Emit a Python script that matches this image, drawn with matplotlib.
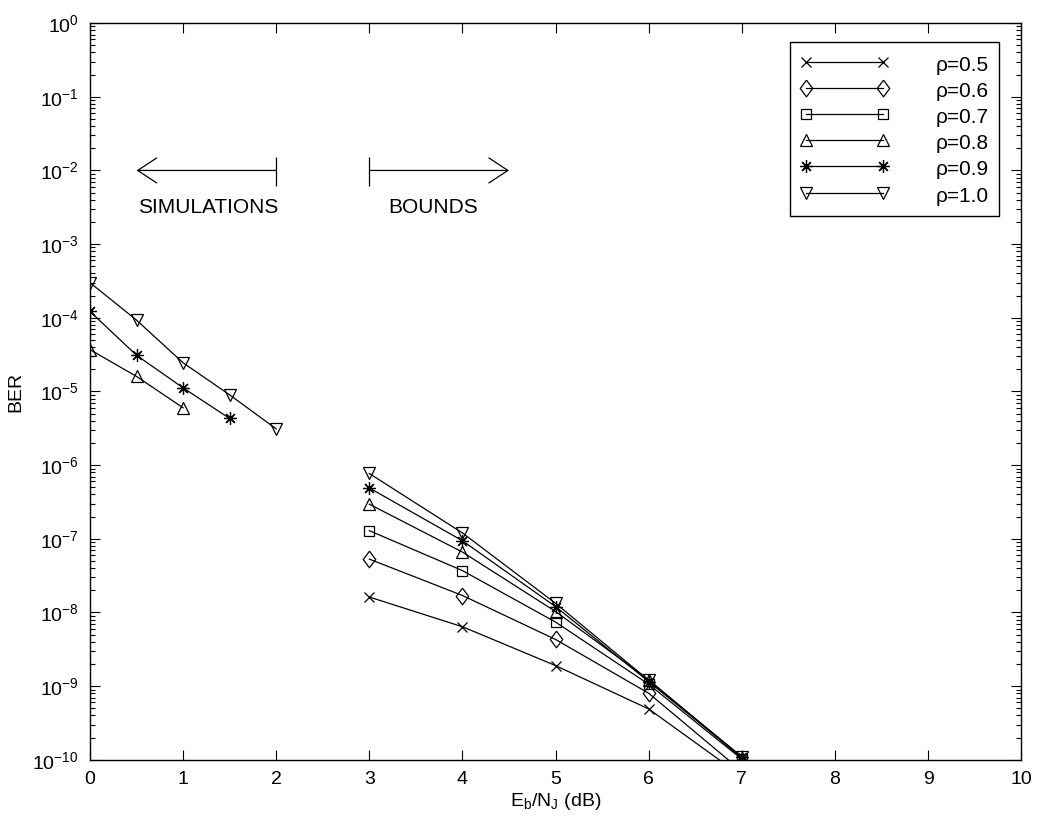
import matplotlib
matplotlib.use("Agg")
from matplotlib import pyplot as plt
from matplotlib.ticker import LogLocator, NullFormatter

plt.rcParams['font.family'] = ['Liberation Sans', 'DejaVu Sans']
plt.rcParams['mathtext.default'] = 'regular'
plt.rcParams['font.size'] = 14

# simulated BER (rho = 0.8, 0.9, 1.0)
x_sim_08 = [0, 0.5, 1.0]
ber_sim_08 = [3.7e-5, 1.6e-5, 6.0e-6]
x_sim_09 = [0, 0.5, 1.0, 1.5]
ber_sim_09 = [1.22e-4, 3.1e-5, 1.12e-5, 4.3e-6]
x_sim_10 = [0, 0.5, 1.0, 1.5, 2.0]
ber_sim_10 = [3.0e-4, 9.3e-5, 2.45e-5, 9.0e-6, 3.1e-6]

# union bounds
x_bnd = [3, 4, 5, 6, 7]
ber_bnd_05 = [1.62e-8, 6.4e-9, 1.9e-9, 4.9e-10, 6.0e-11]
ber_bnd_06 = [5.3e-8, 1.7e-8, 4.3e-9, 8.0e-10, 7.0e-11]
ber_bnd_07 = [1.29e-7, 3.7e-8, 7.4e-9, 1.06e-9, 1.02e-10]
ber_bnd_08 = [2.95e-7, 6.6e-8, 1.03e-8, 1.22e-9, 1.06e-10]
ber_bnd_09 = [4.9e-7, 9.4e-8, 1.2e-8, 1.15e-9, 1.08e-10]
ber_bnd_10 = [7.7e-7, 1.2e-7, 1.33e-8, 1.2e-9, 1.1e-10]

labels = ['ρ=0.5', 'ρ=0.6', 'ρ=0.7', 'ρ=0.8', 'ρ=0.9', 'ρ=1.0']
y_ticks = [10.0 ** -k for k in range(11)]

diamond = [(0, 1), (0.75, 0), (0, -1), (-0.75, 0), (0, 1)]
styles = [
    dict(marker='x', ms=7),
    dict(marker=diamond, ms=12),
    dict(marker='s', ms=7),
    dict(marker='^', ms=9),
    dict(marker=(8, 2, 0), ms=9),
    dict(marker='v', ms=9),
]
common = dict(color='k', lw=0.9, mfc='none', mec='k', mew=0.9)

fig = plt.figure(figsize=(10.4, 8.25), dpi=100)
ax = fig.add_axes([0.0865, 0.079, 0.8955, 0.893])

bnd = [ber_bnd_05, ber_bnd_06, ber_bnd_07, ber_bnd_08, ber_bnd_09, ber_bnd_10]
for b, lab, st in zip(bnd, labels, styles):
    ax.plot(x_bnd, b, label=lab, **st, **common)

ax.plot(x_sim_08, ber_sim_08, **styles[3], **common)
ax.plot(x_sim_09, ber_sim_09, **styles[4], **common)
ax.plot(x_sim_10, ber_sim_10, **styles[5], **common)

ax.set_yscale('log')
ax.set_xlim(0, 10)
ax.set_xticks(range(0, 11))
ax.set_yticks(y_ticks)
ax.yaxis.set_minor_locator(LogLocator(base=10, subs=range(2, 10), numticks=20))
ax.yaxis.set_minor_formatter(NullFormatter())
ax.set_ylim(1e-10, 1)
ax.tick_params(which='both', direction='in', top=True, right=True, width=0.8)
ax.tick_params(which='major', length=7, pad=8)
ax.tick_params(which='minor', length=3.5)
for s in ax.spines.values():
    s.set_linewidth(1.0)

ax.set_xlabel('$E_b/N_J$ (dB)', labelpad=2)
ax.set_ylabel('BER', labelpad=6)

# region markers
head = '->,head_length=1.37,head_width=0.9'
ax.annotate('', xy=(0.5, 1e-2), xytext=(2.0, 1e-2),
            arrowprops=dict(arrowstyle=head, lw=0.9, color='k',
                            shrinkA=0, shrinkB=0, mutation_scale=10))
ax.annotate('', xy=(4.5, 1e-2), xytext=(3.0, 1e-2),
            arrowprops=dict(arrowstyle=head, lw=0.9, color='k',
                            shrinkA=0, shrinkB=0, mutation_scale=10))
ax.vlines([2.0, 3.0], 6.2e-3, 1.52e-2, color='k', lw=0.9)
ax.text(1.27, 3.1e-3, 'SIMULATIONS', ha='center', va='center', fontsize=15)
ax.text(3.69, 3.1e-3, 'BOUNDS', ha='center', va='center', fontsize=15)

leg = ax.legend(loc='upper right', bbox_to_anchor=(0.976, 0.974), borderaxespad=0,
                fontsize=15, numpoints=2, handlelength=4.3, handletextpad=2.2,
                handleheight=1.25, labelspacing=0.2,
                fancybox=False, edgecolor='k', framealpha=1, borderpad=0.5)
leg.get_frame().set_linewidth(1.0)

fig.savefig('out.png', dpi=100)
